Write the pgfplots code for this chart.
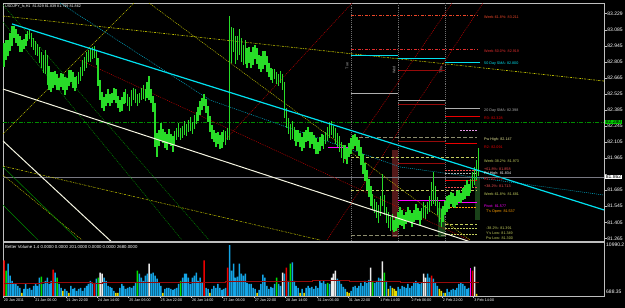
\documentclass[border=0pt]{standalone}
\usepackage{pgfplots}
\pgfplotsset{compat=1.18}
\usepackage{pgfplotstable}
\usepackage{fontspec}
\setmainfont{Liberation Sans}
\definecolor{frame}{RGB}{190,190,190}
\definecolor{candle}{RGB}{40,220,40}
\definecolor{tlcyan}{RGB}{0,225,240}
\definecolor{cydot}{RGB}{0,170,200}
\definecolor{yel}{RGB}{200,200,0}
\definecolor{dgreen}{RGB}{0,140,0}
\definecolor{rdot}{RGB}{190,0,0}
\definecolor{vblue}{RGB}{20,165,230}
\definecolor{vred}{RGB}{235,0,0}
\definecolor{vgreen}{RGB}{0,225,0}
\definecolor{vyellow}{RGB}{230,220,0}
\definecolor{vwhite}{RGB}{235,235,235}
\definecolor{vmag}{RGB}{255,0,255}
\definecolor{lvred}{RGB}{235,70,40}
\definecolor{wkred}{RGB}{225,45,45}
\definecolor{lvolive}{RGB}{195,205,95}
\definecolor{darkred}{RGB}{150,10,10}
\definecolor{lgray}{RGB}{175,175,175}
\definecolor{sepgray}{RGB}{110,110,110}
\definecolor{curgray}{RGB}{120,120,130}
\definecolor{dashgray}{RGB}{140,140,110}
\definecolor{orng}{RGB}{255,160,0}
\definecolor{pinkd}{RGB}{230,150,230}
\definecolor{pctred}{RGB}{240,80,80}
\definecolor{pwhigh}{RGB}{230,230,150}
\definecolor{boxred}{RGB}{85,25,25}
\definecolor{boxgreen}{RGB}{25,65,25}
\definecolor{tlwhite}{RGB}{245,245,225}
\definecolor{greenbox}{RGB}{0,200,0}
\newcommand{\sm}{\fontsize{3.7}{4}\selectfont}
\newcommand{\ax}{\fontsize{5}{5.5}\selectfont}

\pgfplotstableread{
i m e
0 82.865 0.105
1 82.909 0.087
2 82.926 0.070
3 82.978 0.079
4 83.031 0.087
5 83.066 0.052
6 83.031 0.061
7 82.996 0.052
8 82.961 0.070
9 82.944 0.052
10 82.961 0.044
11 82.996 0.052
12 83.031 0.044
13 83.048 0.044
14 82.996 0.061
15 82.961 0.052
16 82.926 0.061
17 82.909 0.052
18 82.865 0.070
19 82.821 0.070
20 82.787 0.079
21 82.804 0.105
22 82.734 0.131
23 82.664 0.105
24 82.629 0.087
25 82.647 0.070
26 82.664 0.061
27 82.629 0.070
28 82.612 0.052
29 82.647 0.061
30 82.629 0.070
31 82.595 0.079
32 82.612 0.052
33 82.664 0.070
34 82.682 0.052
35 82.647 0.070
36 82.612 0.061
37 82.629 0.052
38 82.664 0.052
39 82.699 0.061
40 82.752 0.070
41 82.787 0.061
42 82.821 0.070
43 82.856 0.052
44 82.865 0.061
45 82.882 0.052
46 82.891 0.052
47 82.839 0.061
48 82.717 0.122
49 82.560 0.087
50 82.472 0.070
51 82.437 0.061
52 82.472 0.052
53 82.507 0.061
54 82.472 0.052
55 82.490 0.044
56 82.525 0.052
57 82.507 0.061
58 82.455 0.052
59 82.420 0.052
60 82.437 0.061
61 82.490 0.052
62 82.507 0.061
63 82.472 0.052
64 82.437 0.061
65 82.490 0.070
66 82.525 0.052
67 82.507 0.061
68 82.472 0.052
69 82.490 0.044
70 82.525 0.052
71 82.542 0.061
72 82.516 0.052
73 82.560 0.070
74 82.577 0.105
75 82.507 0.061
76 82.437 0.070
77 82.254 0.192
78 82.080 0.105
79 82.141 0.070
80 82.193 0.079
81 82.158 0.061
82 82.123 0.070
83 82.106 0.070
84 82.158 0.061
85 82.123 0.052
86 82.088 0.070
87 82.141 0.061
88 82.176 0.052
89 82.211 0.061
90 82.176 0.052
91 82.193 0.052
92 82.228 0.061
93 82.211 0.052
94 82.246 0.052
95 82.263 0.061
96 82.228 0.052
97 82.280 0.061
98 82.315 0.052
99 82.350 0.061
100 82.403 0.061
101 82.437 0.052
102 82.472 0.052
103 82.420 0.061
104 82.350 0.070
105 82.263 0.070
106 82.193 0.061
107 82.158 0.052
108 82.123 0.061
109 82.141 0.052
110 82.106 0.061
111 82.123 0.070
112 82.158 0.052
113 82.141 0.061
114 82.176 0.052
115 82.664 0.541
116 82.952 0.157
117 82.996 0.105
118 82.909 0.122
119 82.926 0.105
120 82.978 0.113
121 82.909 0.105
122 82.865 0.087
123 82.891 0.105
124 82.839 0.087
125 82.865 0.070
126 82.821 0.070
127 82.856 0.079
128 82.891 0.061
129 82.856 0.070
130 82.804 0.061
131 82.787 0.070
132 82.821 0.079
133 82.839 0.061
134 82.787 0.070
135 82.734 0.061
136 82.699 0.052
137 82.682 0.061
138 82.699 0.044
139 82.664 0.052
140 82.647 0.052
141 82.673 0.052
142 82.629 0.070
143 82.472 0.157
144 82.315 0.087
145 82.246 0.070
146 82.193 0.070
147 82.211 0.079
148 82.176 0.061
149 82.141 0.070
150 82.158 0.052
151 82.123 0.061
152 82.088 0.061
153 82.123 0.070
154 82.158 0.052
155 82.176 0.061
156 82.123 0.070
157 82.141 0.052
158 82.106 0.061
159 82.071 0.070
160 82.054 0.052
161 82.088 0.061
162 82.123 0.052
163 82.106 0.061
164 82.141 0.052
165 82.176 0.061
166 82.211 0.070
167 82.228 0.061
168 82.193 0.052
169 82.158 0.070
170 82.123 0.061
171 82.088 0.070
172 82.036 0.070
173 82.001 0.079
174 82.019 0.061
175 81.984 0.070
176 82.036 0.061
177 82.071 0.070
178 82.106 0.061
179 82.123 0.052
180 82.088 0.061
181 82.054 0.070
182 81.984 0.079
183 81.914 0.087
184 81.844 0.079
185 81.774 0.087
186 81.704 0.079
187 81.635 0.087
188 81.582 0.070
189 81.547 0.061
190 81.513 0.070
191 81.478 0.079
192 81.547 0.087
193 81.687 0.140
194 81.556 0.087
195 81.469 0.070
196 81.425 0.070
197 81.390 0.061
198 81.408 0.070
199 81.373 0.052
200 81.390 0.061
201 81.425 0.070
202 81.460 0.079
203 81.443 0.070
204 81.408 0.061
205 81.443 0.052
206 81.478 0.061
207 81.460 0.052
208 81.425 0.061
209 81.460 0.052
210 81.495 0.070
211 81.478 0.052
212 81.443 0.061
213 81.478 0.052
214 81.513 0.070
215 81.495 0.061
216 81.530 0.052
217 81.565 0.070
218 81.652 0.105
219 81.704 0.140
220 81.635 0.087
221 81.547 0.079
222 81.495 0.087
223 81.443 0.079
224 81.478 0.070
225 81.530 0.061
226 81.565 0.070
227 81.582 0.061
228 81.617 0.052
229 81.600 0.061
230 81.582 0.052
231 81.617 0.061
232 81.635 0.052
233 81.617 0.044
234 81.652 0.052
235 81.670 0.061
236 81.704 0.070
237 81.687 0.052
238 81.722 0.061
239 81.774 0.070
240 81.809 0.079
241 81.862 0.087
242 81.931 0.122
}\candles

\begin{document}
\begin{tikzpicture}
\fill[black] (0,0) rectangle (625pt,308pt);
\begin{axis}[at={(3pt,67pt)}, anchor=south west, scale only axis,
  width=601pt, height=238pt, xmin=-0.6, xmax=306, ymin=81.242, ymax=83.319,
  axis line style={draw=frame, line width=0.8pt},
  xtick=\empty,
  ytick={81.265,81.405,81.545,81.685,81.825,81.965,82.105,82.245,82.385,82.525,82.665,82.805,82.945,83.085,83.229},
  yticklabels={81.265,81.405,81.545,81.685,{},81.965,82.105,82.245,82.385,82.525,82.665,82.805,82.945,83.085,83.229},
  ytick pos=right, yticklabel pos=right, tick align=outside, major tick length=2.5pt,
  tick style={draw=frame, line width=0.5pt},
  yticklabel style={font=\ax, text=white, inner sep=0.6pt}]
% session boxes
\addplot[fill=boxred, draw=none] coordinates {(197.9,82.036) (200.9,82.036) (200.9,81.277) (197.9,81.277)} -- cycle;
\addplot[fill=boxgreen, draw=none] coordinates {(221.3,81.530) (224.9,81.530) (224.9,81.277) (221.3,81.277)} -- cycle;
\addplot[fill=boxgreen, draw=none] coordinates {(240.2,81.800) (242.8,81.800) (242.8,81.425) (240.2,81.425)} -- cycle;
% day separators
\addplot[sepgray, dash pattern=on 0.7pt off 1.2pt, line width=0.5pt] coordinates {(176.9,81.242) (176.9,83.319)};
\addplot[sepgray, dash pattern=on 0.7pt off 1.2pt, line width=0.5pt] coordinates {(200.9,81.242) (200.9,83.319)};
\addplot[sepgray, dash pattern=on 0.7pt off 1.2pt, line width=0.5pt] coordinates {(224.9,81.242) (224.9,83.319)};
% horizontal full-width lines
\addplot[dgreen, line width=0.6pt, dash pattern=on 4pt off 1.5pt on 1pt off 1.5pt] coordinates {(-0.6,82.28) (306,82.28)};
\addplot[curgray, line width=0.7pt] coordinates {(-0.6,81.80) (306,81.80)};
% diagonal dotted objects
\addplot[yel, line width=0.6pt, dash pattern=on 2pt off 1pt on 0.6pt off 1pt] coordinates {(-0.6,83.205) (306,82.638)};
\addplot[yel, line width=0.5pt, dash pattern=on 1pt off 1pt] coordinates {(-0.6,82.176) (66.2,83.319)};
\addplot[yel, line width=0.5pt, dash pattern=on 1pt off 1pt] coordinates {(73.9,83.319) (237.7,81.251)};
\addplot[yel, line width=0.5pt, dash pattern=on 2pt off 1pt on 0.6pt off 1pt] coordinates {(-0.6,81.896) (161.1,81.251)};
\addplot[yel, line width=0.5pt, dash pattern=on 1pt off 1pt] coordinates {(-0.6,81.818) (39.7,81.251)};
\addplot[dgreen, line width=0.5pt, dash pattern=on 1pt off 1pt] coordinates {(-0.6,83.153) (90.7,81.251)};
\addplot[dgreen, line width=0.5pt, dash pattern=on 1pt off 1pt] coordinates {(-0.6,83.301) (104.5,81.251)};
\addplot[dgreen, line width=0.5pt] coordinates {(-0.6,81.888) (37.7,81.251)};
\addplot[dgreen, line width=0.5pt] coordinates {(-0.6,81.556) (17.3,81.251)};
\addplot[cydot, line width=0.5pt, dash pattern=on 1pt off 1pt] coordinates {(28.5,83.319) (105.0,82.472) (202.0,81.888) (306,81.643)};
\addplot[rdot, line width=0.5pt, dash pattern=on 1pt off 1pt] coordinates {(38.7,82.821) (237.2,81.251)};
\addplot[rdot, line width=0.5pt, dash pattern=on 1pt off 1pt] coordinates {(112.7,82.123) (177.5,83.319)};
\addplot[rdot, line width=0.5pt, dash pattern=on 1pt off 1pt] coordinates {(172.9,81.923) (228.5,83.319)};
\addplot[rdot, line width=0.5pt, dash pattern=on 1pt off 1pt] coordinates {(164.7,81.251) (244.3,83.319)};
% level segments
\addplot[lvred, line width=0.6pt, dash pattern=on 3pt off 1.5pt on 1pt off 1.5pt] coordinates {(176.9,83.211) (241.2,83.211)};
\addplot[wkred, line width=0.6pt, dash pattern=on 3pt off 1.5pt on 1pt off 1.5pt] coordinates {(176.9,82.919) (241.2,82.919)};
\addplot[tlcyan, line width=0.7pt] coordinates {(176.9,82.865) (200.9,82.865)};
\addplot[tlcyan, line width=0.7pt] coordinates {(200.9,82.839) (224.9,82.839)};
\addplot[tlcyan, line width=0.7pt] coordinates {(224.9,82.800) (242.8,82.800)};
\addplot[darkred, line width=0.7pt] coordinates {(200.9,82.734) (224.9,82.734)};
\addplot[lgray, line width=0.8pt] coordinates {(176.9,82.534) (200.9,82.534)};
\addplot[lgray, line width=0.8pt] coordinates {(200.9,82.472) (224.9,82.472)};
\addplot[lgray, line width=0.8pt] coordinates {(224.9,82.398) (242.8,82.398)};
\addplot[darkred, line width=0.7pt] coordinates {(200.9,82.437) (224.9,82.437)};
\addplot[vred, line width=0.7pt] coordinates {(224.9,82.328) (242.8,82.328)};
\addplot[pinkd, line width=0.5pt, dash pattern=on 2pt off 1pt] coordinates {(232.6,82.211) (241.2,82.211)};
\addplot[dashgray, line width=1pt, dash pattern=on 4pt off 2pt] coordinates {(178.0,82.141) (224.9,82.141)};
\addplot[dashgray, line width=1pt, dash pattern=on 4pt off 2pt] coordinates {(224.9,82.147) (241.2,82.147)};
\addplot[darkred, line width=0.7pt] coordinates {(200.9,82.115) (224.9,82.115)};
\addplot[vred, line width=0.7pt] coordinates {(224.9,82.091) (241.2,82.091)};
\addplot[lvolive, line width=0.8pt, dash pattern=on 3pt off 2pt] coordinates {(176.9,81.973) (241.2,81.973)};
\addplot[darkred, line width=0.7pt] coordinates {(200.9,81.923) (224.9,81.923)};
\addplot[pctred, line width=0.6pt, dash pattern=on 2pt off 1pt] coordinates {(224.9,81.858) (241.2,81.858)};
\addplot[lgray, line width=0.5pt, dash pattern=on 2pt off 1pt] coordinates {(224.9,81.834) (241.2,81.834)};
\addplot[vred, line width=0.7pt] coordinates {(224.9,81.774) (241.2,81.774)};
\addplot[pctred, line width=0.6pt, dash pattern=on 2pt off 1pt] coordinates {(224.9,81.713) (241.2,81.713)};
\addplot[lvolive, line width=0.8pt, dash pattern=on 3pt off 2pt] coordinates {(176.9,81.681) (241.2,81.681)};
\addplot[vmag, line width=0.7pt] coordinates {(165.2,82.062) (178.0,82.062)};
\addplot[vmag, line width=0.7pt] coordinates {(200.9,81.600) (224.9,81.600)};
\addplot[vmag, line width=0.7pt] coordinates {(224.9,81.577) (241.2,81.577)};
\addplot[orng, line width=0.7pt, dash pattern=on 2pt off 1pt] coordinates {(225.9,81.537) (241.2,81.537)};
\addplot[lvolive, line width=0.7pt, dash pattern=on 3pt off 2pt] coordinates {(224.9,81.391) (241.2,81.391)};
\addplot[lvolive, line width=0.7pt, dash pattern=on 2pt off 1pt] coordinates {(224.9,81.349) (241.2,81.349)};
\addplot[lvolive, line width=0.7pt, dash pattern=on 2pt off 1pt] coordinates {(224.9,81.300) (241.2,81.300)};
\addplot[dashgray, line width=1pt, dash pattern=on 4pt off 2pt] coordinates {(176.9,81.294) (224.9,81.294)};
% price bars: vertical segment from low (mid - half range) to high (mid + half range)
\addplot[candle, solid, line width=1.55pt, mark=none, quiver={u=0, v=2*\thisrow{e}}]
  table[x=i, y expr=\thisrow{m}-\thisrow{e}] {\candles};
% main trend lines
\addplot[tlcyan, line width=1.2pt] coordinates {(4.0,83.136) (306,81.513)};
\addplot[tlwhite, line width=1pt] coordinates {(-0.6,82.568) (242.8,81.207)};
\addplot[tlwhite, line width=1pt] coordinates {(-0.6,82.115) (56.5,81.207)};
\end{axis}

\begin{axis}[at={(3pt,12pt)}, anchor=south west, scale only axis,
  width=601pt, height=54pt, xmin=-0.6, xmax=306, ymin=0.69, ymax=11.0,
  axis line style={draw=frame, line width=0.8pt},
  ytick=\empty,
  xtick={-0.5,15.5,31.5,47.5,63.5,79.5,95.5,111.5,127.5,143.5,159.5,175.5,191.5,207.5,223.5,239.5},
  xticklabels={20 Jan 2011,21 Jan 06:00,21 Jan 22:00,24 Jan 14:00,25 Jan 06:00,25 Jan 22:00,26 Jan 14:00,27 Jan 06:00,27 Jan 22:00,28 Jan 14:00,31 Jan 06:00,31 Jan 22:00,1 Feb 14:00,2 Feb 06:00,2 Feb 22:00,3 Feb 14:00},
  xtick pos=bottom, tick align=outside, major tick length=2pt,
  tick style={draw=frame, line width=0.5pt},
  xticklabel style={font=\sm, text=white, anchor=north west, inner sep=0.5pt}]
\addplot[ybar, bar width=1.5pt, bar shift=0pt, fill=vblue, draw=none] coordinates {
(2,6.89) (3,4.57) (4,3.60) (5,3.02) (6,3.02) (7,2.63) (8,2.24) (10,2.05) (11,3.02) (12,2.05) (13,2.24) (14,1.85) (15,2.63) (16,3.02) (17,2.63) (18,4.18) (20,3.02) (21,3.60) (22,4.18) (23,3.02) (24,3.60) (26,5.15) (28,3.02) (29,2.24) (31,2.05) (32,1.66) (34,2.63) (35,2.05) (36,2.24) (37,1.66) (38,2.05) (39,2.24) (40,1.66) (41,2.24) (42,2.63) (43,3.02) (44,3.60) (45,3.21) (47,3.99) (51,4.18) (52,3.60) (53,2.63) (54,2.43) (55,2.24) (56,1.66) (59,2.24) (60,3.02) (61,2.63) (62,2.05) (63,2.24) (64,2.43) (65,2.24) (66,2.63) (67,3.21) (69,4.96) (70,4.18) (71,3.60) (72,4.57) (73,4.96) (75,4.96) (76,5.15) (77,4.57) (78,3.99) (79,3.21) (80,2.63) (82,2.05) (83,2.24) (84,2.24) (85,2.05) (86,1.85) (87,2.05) (88,2.24) (89,3.02) (91,4.18) (92,4.96) (93,4.96) (94,4.18) (95,3.02) (96,4.18) (97,4.57) (98,5.15) (99,3.60) (100,4.18) (101,3.21) (103,2.24) (104,2.05) (106,2.05) (107,2.63) (108,2.24) (109,3.02) (110,2.24) (111,1.85) (112,2.05) (113,2.24) (115,10.40) (116,5.54) (117,6.89) (118,4.18) (119,4.37) (120,6.89) (121,4.96) (122,4.57) (123,4.96) (124,3.21) (125,3.02) (126,3.02) (127,2.24) (128,2.05) (130,1.85) (131,3.02) (132,4.76) (133,4.18) (134,2.63) (135,2.05) (136,2.43) (137,2.24) (138,3.02) (140,3.02) (141,2.63) (143,4.96) (145,3.60) (147,7.09) (148,3.60) (149,2.63) (150,2.24) (152,2.05) (154,2.24) (155,2.63) (156,2.24) (157,2.43) (158,2.05) (159,2.63) (160,2.24) (161,3.60) (162,3.21) (163,3.60) (164,3.02) (166,3.02) (170,3.99) (171,3.60) (172,3.02) (173,2.43) (174,2.05) (177,1.66) (178,2.43) (179,2.63) (180,2.24) (181,2.63) (182,3.21) (183,2.63) (184,3.60) (185,3.21) (186,3.79) (189,3.21) (190,3.60) (191,4.18) (192,3.99) (195,3.60) (197,2.63) (201,2.43) (202,2.05) (203,2.63) (204,2.43) (205,2.24) (206,3.02) (207,2.24) (208,2.63) (209,3.21) (210,3.60) (211,3.21) (212,3.02) (213,3.21) (216,4.96) (217,4.18) (219,3.99) (220,3.21) (221,2.63) (224,1.27) (226,2.05) (227,1.46) (228,1.85) (229,2.05) (230,1.85) (231,2.24) (232,3.02) (233,3.21) (234,3.02) (235,2.63) (236,2.05) (237,2.24)};
\addplot[ybar, bar width=1.5pt, bar shift=0pt, fill=vred, draw=none] coordinates {(0,7.48) (25,5.73) (46,3.21) (102,7.48) (114,6.12) (144,6.12) (218,4.57) (239,5.54)};
\addplot[ybar, bar width=1.5pt, bar shift=0pt, fill=vgreen, draw=none] coordinates {(1,5.54) (19,4.37) (27,4.18) (48,4.18) (68,5.54) (90,3.60) (139,4.18) (146,6.89) (165,3.21) (188,3.60) (194,5.15)};
\addplot[ybar, bar width=1.5pt, bar shift=0pt, fill=vyellow, draw=none] coordinates {(9,1.27) (30,1.66) (33,1.27) (57,1.27) (58,1.27) (81,1.27) (105,1.27) (129,1.27) (151,1.27) (153,1.27) (175,1.46) (176,1.27) (196,2.05) (198,2.24) (199,2.05) (200,1.66) (222,2.05) (223,1.66) (225,1.27) (241,1.08)};
\addplot[ybar, bar width=1.5pt, bar shift=0pt, fill=vwhite, draw=none] coordinates {(49,5.15) (50,4.96) (74,6.89) (142,5.15) (167,4.18) (168,4.96) (169,5.54) (187,6.12) (193,7.28) (214,4.96) (215,4.18) (240,6.31)};
\addplot[ybar, bar width=1.5pt, bar shift=0pt, fill=vmag, draw=none] coordinates {(238,6.12)};
\addplot[const plot, darkred, line width=0.8pt] coordinates {(0,3.08) (19,3.27) (45,3.08) (50,3.27) (113,3.46) (157,3.60) (176,3.40) (202,3.21) (242,3.21)};
\end{axis}

% texts
\node[anchor=west, text=white, font=\sm, inner sep=0] at (5pt,301pt) {USDJPY\_fx,H1\ \ 81.829 81.839 81.799 81.862};
\node[anchor=west, text=white, font=\fontsize{4.3}{5}\selectfont, inner sep=0] at (5pt,61.5pt) {Better Volume 1.4 0.0000 0.0000 201.0000 0.0000 0.0000 2680.0000};
\node[anchor=west, text=white, font=\ax, inner sep=0] at (606pt,63pt) {10990.2};
\node[anchor=west, text=white, font=\ax, inner sep=0] at (606pt,16pt) {688.35};
\node[anchor=west, fill=white, text=black, font=\ax, inner sep=0.6pt] at (605pt,131pt) {81.862};
\node[anchor=west, fill=greenbox, text=black, font=\ax, inner sep=0.6pt] at (605pt,186pt) {82.280};
\node[rotate=90, text=lgray, font=\sm, inner sep=0] at (347pt,242pt) {Tue};
\node[rotate=90, text=lgray, font=\sm, inner sep=0] at (394pt,238pt) {Wed};
\node[rotate=90, text=lgray, font=\sm, inner sep=0] at (441pt,238pt) {Thu};
\begin{scope}[every node/.style={anchor=west, font=\sm, inner sep=0}]
\node[text=lvred] at (484pt,291pt) {Week-61.8\%: 83.211};
\node[text=wkred] at (484pt,257pt) {Week-50.0\%: 82.919};
\node[text=tlcyan] at (484pt,244pt) {50 Day SMA: 82.800};
\node[text=lgray] at (484pt,197pt) {20 Day SMA: 82.398};
\node[text=vred] at (484pt,190pt) {R3: 82.328};
\node[text=pwhigh] at (484pt,168pt) {Pw High: 82.147};
\node[text=vred] at (484pt,161pt) {R2: 82.091};
\node[text=lvolive] at (484pt,147pt) {Week-38.2\%: 81.973};
\node[text=pctred] at (484pt,139pt) {+61.8\%: 81.858};
\node[text=white] at (484pt,134pt) {Pd High: 81.834};
\node[text=vred] at (484pt,129pt) {R1: 81.774};
\node[text=pctred] at (484pt,122pt) {+38.2\%: 81.713};
\node[text=lvolive] at (484pt,114pt) {Week-61.8\%: 81.681};
\node[text=vmag] at (484pt,102pt) {Pivot: 81.577};
\node[text=orng] at (486pt,96pt) {T's Open: 81.537};
\node[text=lvolive] at (486pt,80pt) {-38.2\%: 81.391};
\node[text=lvolive] at (486pt,75pt) {Y's Low: 81.349};
\node[text=lvolive] at (486pt,70pt) {Pw Low: 81.300};
\end{scope}
\pgfresetboundingbox
\path[use as bounding box] (0,0) rectangle (625pt,308pt);
\end{tikzpicture}
\end{document}
